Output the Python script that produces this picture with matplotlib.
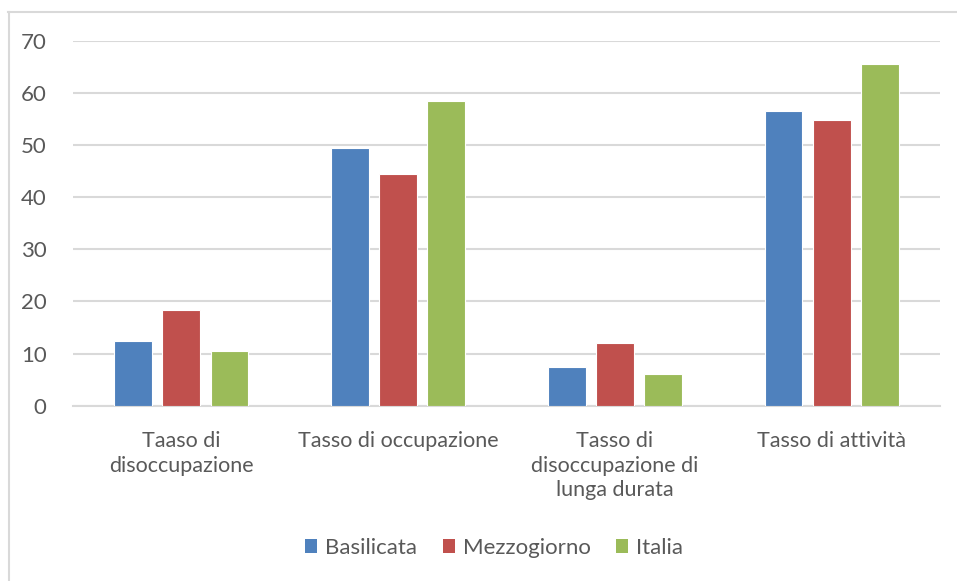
import matplotlib
matplotlib.use("Agg")
import matplotlib.pyplot as plt
import numpy as np
from matplotlib.lines import Line2D
from matplotlib.patches import Patch

categories = ["Taaso di\ndisoccupazione", "Tasso di occupazione",
              "Tasso di\ndisoccupazione di\nlunga durata", "Tasso di attività"]
series_names = ["Basilicata", "Mezzogiorno", "Italia"]
basilicata = [12.4, 49.4, 7.5, 56.6]
mezzogiorno = [18.3, 44.4, 12.0, 54.7]
italia = [10.5, 58.5, 6.1, 65.6]
colors = ["#4F81BD", "#C0504D", "#9BBB59"]
yticks = [0, 10, 20, 30, 40, 50, 60, 70]

plt.rcParams['font.family'] = ['Lato', 'DejaVu Sans']
text_color = "#595959"
grid_color = "#D9D9D9"

fig = plt.figure(figsize=(9.57, 5.81), dpi=100)
ax = fig.add_axes([73/957, 1 - 405.7/581, (940-73)/957, (405.7-40.7)/581])

x = np.arange(len(categories))
w = 0.175
step = 0.222
for i, (vals, c, name) in enumerate(zip([basilicata, mezzogiorno, italia], colors, series_names)):
    ax.bar(x + (i-1)*step, vals, width=w, color=c, edgecolor='white', linewidth=0.8, label=name, zorder=3)

ax.set_xlim(-0.5, len(categories)-0.5)
ax.set_ylim(0, 70)
ax.set_yticks(yticks)
ax.set_yticklabels([str(v) for v in yticks], fontsize=16, color=text_color)
ax.set_xticks(x)
ax.set_xticklabels(categories, fontsize=15.5, color=text_color, linespacing=1.3, va='top')
ax.tick_params(axis='both', length=0)
ax.tick_params(axis='y', pad=19)
ax.tick_params(axis='x', pad=18)
ax.grid(axis='y', color=grid_color, linewidth=1.5, zorder=0)
for s in ['top', 'right', 'left']:
    ax.spines[s].set_visible(False)
ax.spines['bottom'].set_color(grid_color)
ax.spines['bottom'].set_linewidth(1.5)

handles = [Patch(facecolor=c, edgecolor='none') for c in colors]
fig.legend(handles, series_names, loc='center', bbox_to_anchor=(494/957, 1 - 548/581),
           ncol=3, frameon=False, fontsize=16, labelcolor=text_color,
           handlelength=0.55, handleheight=0.55, handletextpad=0.35, columnspacing=1.15)

# outer border (top and left)
fig.add_artist(Line2D([8/957, 1], [1 - 12/581, 1 - 12/581], color=grid_color, linewidth=1.5, transform=fig.transFigure))
fig.add_artist(Line2D([9/957, 9/957], [0, 1 - 12/581], color=grid_color, linewidth=1.5, transform=fig.transFigure))

fig.savefig("out.png", dpi=100, facecolor='white')
